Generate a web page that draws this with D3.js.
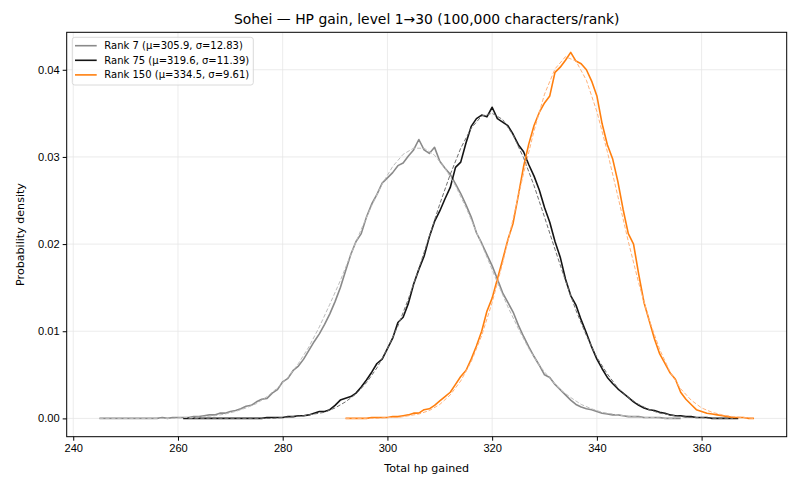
<!DOCTYPE html>
<html>
<head>
<meta charset="utf-8">
<script src="https://cdn.jsdelivr.net/npm/d3@7"></script>
<style>
  body { margin: 0; background: #fff; }
  svg { font-family: "DejaVu Sans", sans-serif; }
</style>
</head>
<body>
<svg id="chart"></svg>
<script>
// --- data ---
const title = "Sohei \u2014 HP gain, level 1\u219230 (100,000 characters/rank)";
const xLabel = "Total hp gained";
const yLabel = "Probability density";
const xTicks = [240, 260, 280, 300, 320, 340, 360];
const yTicks = [0, 0.01, 0.02, 0.03, 0.04];

const seriesNames = ["Rank 7 (\u03bc=305.9, \u03c3=12.83)", "Rank 75 (\u03bc=319.6, \u03c3=11.39)", "Rank 150 (\u03bc=334.5, \u03c3=9.61)"];

// histogram densities, one value per hp point
const rank7Start = 245;
const rank7Density = [
  0.0000, 0.0000, 0.0000, 0.0000, 0.0000, 0.0000, 0.0000, 0.0000, 0.0000, 0.0000,
  0.0000, 0.0000, 0.0001, 0.0000, 0.0001, 0.0001, 0.0001, 0.0001, 0.0002, 0.0002,
  0.0003, 0.0004, 0.0004, 0.0006, 0.0006, 0.0008, 0.0009, 0.0011, 0.0014, 0.0015,
  0.0019, 0.0022, 0.0023, 0.0029, 0.0033, 0.0042, 0.0046, 0.0055, 0.0060, 0.0068,
  0.0078, 0.0088, 0.0097, 0.0108, 0.0120, 0.0134, 0.0150, 0.0169, 0.0188, 0.0203,
  0.0212, 0.0231, 0.0246, 0.0257, 0.0270, 0.0276, 0.0282, 0.0290, 0.0293, 0.0301,
  0.0308, 0.0320, 0.0308, 0.0304, 0.0311, 0.0295, 0.0287, 0.0280, 0.0269, 0.0258,
  0.0245, 0.0231, 0.0213, 0.0201, 0.0188, 0.0175, 0.0160, 0.0144, 0.0133, 0.0122,
  0.0107, 0.0094, 0.0082, 0.0071, 0.0061, 0.0050, 0.0047, 0.0039, 0.0033, 0.0027,
  0.0021, 0.0016, 0.0013, 0.0011, 0.0010, 0.0008, 0.0006, 0.0005, 0.0004, 0.0004,
  0.0003, 0.0002, 0.0002, 0.0002, 0.0001, 0.0001, 0.0001, 0.0001, 0.0000, 0.0000,
  0.0000, 0.0000
];
const rank75Start = 261;
const rank75Density = [
  0.0000, 0.0000, 0.0000, 0.0000, 0.0000, 0.0000, 0.0000, 0.0000, 0.0000, 0.0000,
  0.0000, 0.0000, 0.0000, 0.0000, 0.0000, 0.0000, 0.0001, 0.0001, 0.0001, 0.0001,
  0.0002, 0.0002, 0.0003, 0.0003, 0.0004, 0.0006, 0.0008, 0.0008, 0.0010, 0.0015,
  0.0021, 0.0023, 0.0025, 0.0029, 0.0036, 0.0044, 0.0053, 0.0063, 0.0068, 0.0080,
  0.0092, 0.0110, 0.0116, 0.0132, 0.0154, 0.0171, 0.0186, 0.0208, 0.0226, 0.0238,
  0.0252, 0.0265, 0.0288, 0.0294, 0.0316, 0.0335, 0.0344, 0.0348, 0.0346, 0.0357,
  0.0344, 0.0340, 0.0336, 0.0326, 0.0314, 0.0306, 0.0291, 0.0278, 0.0262, 0.0242,
  0.0225, 0.0203, 0.0185, 0.0160, 0.0141, 0.0130, 0.0113, 0.0098, 0.0082, 0.0068,
  0.0057, 0.0047, 0.0040, 0.0034, 0.0029, 0.0024, 0.0019, 0.0015, 0.0012, 0.0010,
  0.0009, 0.0007, 0.0006, 0.0004, 0.0003, 0.0003, 0.0002, 0.0002, 0.0001, 0.0001,
  0.0001, 0.0000, 0.0000, 0.0000, 0.0000, 0.0000, 0.0000
];
const rank150Start = 292;
const rank150Density = [
  0.0000, 0.0000, 0.0000, 0.0000, 0.0000, 0.0001, 0.0001, 0.0001, 0.0001, 0.0002,
  0.0002, 0.0003, 0.0004, 0.0006, 0.0006, 0.0010, 0.0011, 0.0015, 0.0020, 0.0025,
  0.0030, 0.0039, 0.0048, 0.0055, 0.0068, 0.0083, 0.0100, 0.0123, 0.0138, 0.0160,
  0.0182, 0.0205, 0.0224, 0.0256, 0.0289, 0.0315, 0.0336, 0.0351, 0.0362, 0.0370,
  0.0397, 0.0403, 0.0411, 0.0420, 0.0410, 0.0407, 0.0400, 0.0387, 0.0370, 0.0338,
  0.0314, 0.0298, 0.0272, 0.0240, 0.0212, 0.0200, 0.0165, 0.0133, 0.0112, 0.0091,
  0.0074, 0.0063, 0.0052, 0.0045, 0.0030, 0.0022, 0.0016, 0.0010, 0.0008, 0.0006,
  0.0005, 0.0004, 0.0003, 0.0002, 0.0001, 0.0001, 0.0001, 0.0000, 0.0000
];

// fitted normal curves (dashed), one value every 2 hp
const fitStep = 2;
const rank7FitStart = 245;
const rank7Fit = [
  0.0000, 0.0000, 0.0000, 0.0000, 0.0000, 0.0000, 0.0000, 0.0000, 0.0001, 0.0001,
  0.0002, 0.0003, 0.0005, 0.0008, 0.0012, 0.0017, 0.0025, 0.0035, 0.0047, 0.0063,
  0.0082, 0.0105, 0.0131, 0.0158, 0.0188, 0.0217, 0.0244, 0.0269, 0.0289, 0.0303,
  0.0310, 0.0310, 0.0302, 0.0287, 0.0267, 0.0242, 0.0214, 0.0185, 0.0156, 0.0128,
  0.0103, 0.0080, 0.0061, 0.0046, 0.0033, 0.0024, 0.0016, 0.0011, 0.0007, 0.0005,
  0.0003, 0.0002, 0.0001, 0.0001, 0.0000, 0.0000
];
const rank75FitStart = 262;
const rank75Fit = [
  0.0000, 0.0000, 0.0000, 0.0000, 0.0000, 0.0000, 0.0000, 0.0000, 0.0000, 0.0001,
  0.0002, 0.0003, 0.0005, 0.0007, 0.0012, 0.0019, 0.0028, 0.0041, 0.0058, 0.0080,
  0.0106, 0.0137, 0.0172, 0.0209, 0.0246, 0.0280, 0.0310, 0.0333, 0.0347, 0.0350,
  0.0343, 0.0325, 0.0299, 0.0267, 0.0231, 0.0194, 0.0158, 0.0124, 0.0095, 0.0070,
  0.0051, 0.0035, 0.0024, 0.0016, 0.0010, 0.0006, 0.0004, 0.0002, 0.0001, 0.0001,
  0.0000, 0.0000, 0.0000
];
const rank150FitStart = 292;
const rank150Fit = [
  0.0000, 0.0000, 0.0000, 0.0000, 0.0001, 0.0001, 0.0003, 0.0005, 0.0009, 0.0016,
  0.0027, 0.0043, 0.0065, 0.0095, 0.0133, 0.0178, 0.0229, 0.0281, 0.0330, 0.0372,
  0.0401, 0.0415, 0.0410, 0.0388, 0.0352, 0.0306, 0.0255, 0.0203, 0.0155, 0.0113,
  0.0079, 0.0053, 0.0034, 0.0021, 0.0012, 0.0007, 0.0004, 0.0002, 0.0001, 0.0000
];

const colors = ["#8a8a8a", "#141414", "#ff7f0e"];
const fitColors = ["#bdbdbd", "#6e6e6e", "#ffb27a"];

// --- drawing ---
const width = 800;
const height = 489;
const margin = { top: 32.3, right: 13.3, bottom: 52.3, left: 66.7 };

const svg = d3.select("#chart").attr("width", width).attr("height", height);

const xScale = d3
  .scaleLinear()
  .domain([238.75, 376.25])
  .range([margin.left, width - margin.right]);

const yScale = d3
  .scaleLinear()
  .domain([-0.0021, 0.0443])
  .range([height - margin.bottom, margin.top]);

function toPoints(start, step, values) {
  return values.map((v, i) => ({ x: start + i * step, y: v }));
}

const solid = [
  toPoints(rank7Start, 1, rank7Density),
  toPoints(rank75Start, 1, rank75Density),
  toPoints(rank150Start, 1, rank150Density),
];
const fits = [
  toPoints(rank7FitStart, fitStep, rank7Fit),
  toPoints(rank75FitStart, fitStep, rank75Fit),
  toPoints(rank150FitStart, fitStep, rank150Fit),
];

// grid
svg
  .append("g")
  .selectAll("line")
  .data(xTicks)
  .join("line")
  .attr("x1", (d) => xScale(d))
  .attr("x2", (d) => xScale(d))
  .attr("y1", margin.top)
  .attr("y2", height - margin.bottom)
  .attr("stroke", "#e6e6e6")
  .attr("stroke-width", 0.8);

svg
  .append("g")
  .selectAll("line")
  .data(yTicks)
  .join("line")
  .attr("x1", margin.left)
  .attr("x2", width - margin.right)
  .attr("y1", (d) => yScale(d))
  .attr("y2", (d) => yScale(d))
  .attr("stroke", "#e6e6e6")
  .attr("stroke-width", 0.8);

const line = d3
  .line()
  .x((d) => xScale(d.x))
  .y((d) => yScale(d.y));

const plot = svg.append("g");

// solid lines first, dashed fits on top
solid.forEach((pts, i) => {
  plot
    .append("path")
    .datum(pts)
    .attr("fill", "none")
    .attr("stroke", colors[i])
    .attr("stroke-width", 1.6)
    .attr("stroke-linejoin", "round")
    .attr("d", line);
});

fits.forEach((pts, i) => {
  plot
    .append("path")
    .datum(pts)
    .attr("fill", "none")
    .attr("stroke", fitColors[i])
    .attr("stroke-width", 1)
    .attr("stroke-dasharray", "4,2")
    .attr("d", line);
});

// axes
const xAxis = d3.axisBottom(xScale).tickValues(xTicks).tickSizeOuter(0).tickSize(4).tickPadding(3);
const yAxis = d3
  .axisLeft(yScale)
  .tickValues(yTicks)
  .tickFormat(d3.format(".2f"))
  .tickSizeOuter(0)
  .tickSize(4)
  .tickPadding(3);

svg
  .append("g")
  .attr("transform", "translate(0," + (height - margin.bottom) + ")")
  .call(xAxis)
  .call((g) => g.select(".domain").remove())
  .selectAll("text")
  .style("font-size", "11.1px")
  .style("fill", "#000");

svg
  .append("g")
  .attr("transform", "translate(" + margin.left + ",0)")
  .call(yAxis)
  .call((g) => g.select(".domain").remove())
  .selectAll("text")
  .style("font-size", "11.1px")
  .style("fill", "#000");

// frame
svg
  .append("rect")
  .attr("x", margin.left)
  .attr("y", margin.top)
  .attr("width", width - margin.left - margin.right)
  .attr("height", height - margin.top - margin.bottom)
  .attr("fill", "none")
  .attr("stroke", "#000")
  .attr("stroke-width", 1);

// labels
svg
  .append("text")
  .attr("x", (margin.left + width - margin.right) / 2)
  .attr("y", 24)
  .attr("text-anchor", "middle")
  .style("font-size", "13.9px")
  .text(title);

svg
  .append("text")
  .attr("x", (margin.left + width - margin.right) / 2)
  .attr("y", 472)
  .attr("text-anchor", "middle")
  .style("font-size", "11.1px")
  .text(xLabel);

svg
  .append("text")
  .attr("transform", "translate(24," + (margin.top + height - margin.bottom) / 2 + ") rotate(-90)")
  .attr("text-anchor", "middle")
  .style("font-size", "11.1px")
  .text(yLabel);

// legend
const legend = svg.append("g").attr("transform", "translate(72.3,37.3)");
legend
  .append("rect")
  .attr("width", 181)
  .attr("height", 47.7)
  .attr("rx", 2.5)
  .attr("fill", "#fff")
  .attr("fill-opacity", 0.8)
  .attr("stroke", "#d0d0d0")
  .attr("stroke-width", 0.8);

seriesNames.forEach((name, i) => {
  const row = legend.append("g").attr("transform", "translate(0," + (8.4 + i * 14.6) + ")");
  row
    .append("line")
    .attr("x1", 2.7)
    .attr("x2", 24.4)
    .attr("stroke", colors[i])
    .attr("stroke-width", 1.6);
  row
    .append("text")
    .attr("x", 32)
    .attr("dy", "0.35em")
    .style("font-size", "10px")
    .text(name);
});
</script>
</body>
</html>
